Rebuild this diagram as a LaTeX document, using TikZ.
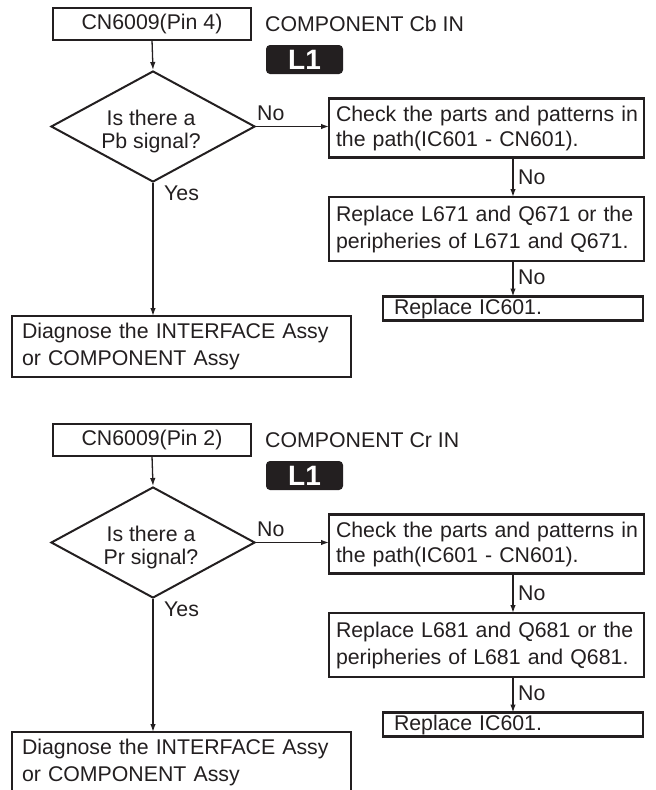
\documentclass[tikz,border=0pt]{standalone}
\usepackage{fontspec}
\setmainfont{Liberation Sans}
\usetikzlibrary{shapes.geometric,arrows.meta}
\definecolor{ink}{HTML}{231F20}
\tikzset{
  x=1pt, y=-1pt,
  every node/.style={text=ink, font=\fontsize{21.3}{25}\selectfont},
  box/.style={draw=ink, line width=2.6pt, inner sep=0pt, outer sep=0pt},
  textbox/.style={box, align=left, inner xsep=8pt, text width=#1},
  decision/.style={draw=ink, line width=2pt, diamond, aspect=1.84,
    minimum width=204pt, minimum height=111pt, inner sep=0pt},
  badge/.style={fill=ink, rounded corners=4pt, minimum width=77pt,
    minimum height=29pt, inner sep=0pt, text=white,
    font=\fontsize{28}{28}\selectfont\bfseries},
  flow/.style={draw=ink, line width=1.3pt, -{Latex[length=8pt,width=5.5pt]}},
  lbl/.style={anchor=west, inner sep=0pt}
}
% One flowchart block: #1 name prefix, #2 downward shift, #3 pin,
% #4 signal name, #5 part number, #6 component letters
\newcommand\chartblock[6]{%
\begin{scope}[yshift=-#2pt]
  \node[box, minimum width=198pt, minimum height=32pt] (#1cn) at (152,24) {CN6009(Pin #3)};
  \node[lbl] (#1title) at (265,24) {COMPONENT #6 IN};
  \node[badge] (#1badge) at (304.5,59.5) {L1};
  \node[decision] (#1q) at (153,126.5) {};
  \node[align=center, inner sep=0pt, font=\fontsize{21.3}{23}\selectfont]
    (#1qtext) at (151,131) {Is there a\\#4 signal?};
  \node[textbox=301pt, inner xsep=7pt, minimum height=59pt] (#1check) at (486.5,128)
    {\mbox{Check the parts and patterns in}\\\mbox{the path(IC601 - CN601).}};
  \node[textbox=301pt, inner xsep=7pt, minimum height=64pt,
    font=\fontsize{21.3}{27}\selectfont] (#1repl) at (486.5,229)
    {\mbox{Replace L#5 and Q#5 or the}\\\mbox{peripheries of L#5 and Q#5.}};
  \node[box, anchor=west, inner xsep=11pt, minimum width=260pt, minimum height=24pt,
    text width=238pt, align=left] (#1ic) at (383,308.5) {Replace IC601.};
  \node[textbox=319pt, inner xsep=10pt, minimum height=61pt,
    font=\fontsize{21.3}{27}\selectfont] (#1diag) at (181.5,346.5)
    {\mbox{Diagnose the INTERFACE Assy}\\\mbox{or COMPONENT Assy}};
  \coordinate (#1col) at (513,0);
  \draw[flow] (#1cn.south) -- (#1q.north);
  \draw[flow] (#1q.east) -- (#1q.east -| #1check.west);
  \draw[flow] (#1q.south) -- (#1q.south |- #1diag.north);
  \draw[flow] (#1check.south -| #1col) -- (#1repl.north -| #1col);
  \draw[flow] (#1repl.south -| #1col) -- (#1ic.north -| #1col);
  \node[lbl] (#1no) at (257,113) {No};
  \node[lbl] (#1yes) at (164,193) {Yes};
  \node[lbl] (#1noa) at (518,177) {No};
  \node[lbl] (#1nob) at (518,277) {No};
\end{scope}}
\begin{document}
\begin{tikzpicture}
  \useasboundingbox (0,0) rectangle (656,790);
  \clip (0,0) rectangle (656,790);
  \fill[white] (0,0) rectangle (656,790);
  \chartblock{a}{0}{4}{Pb}{671}{Cb}
  \chartblock{b}{416}{2}{Pr}{681}{Cr}
\end{tikzpicture}
\end{document}
